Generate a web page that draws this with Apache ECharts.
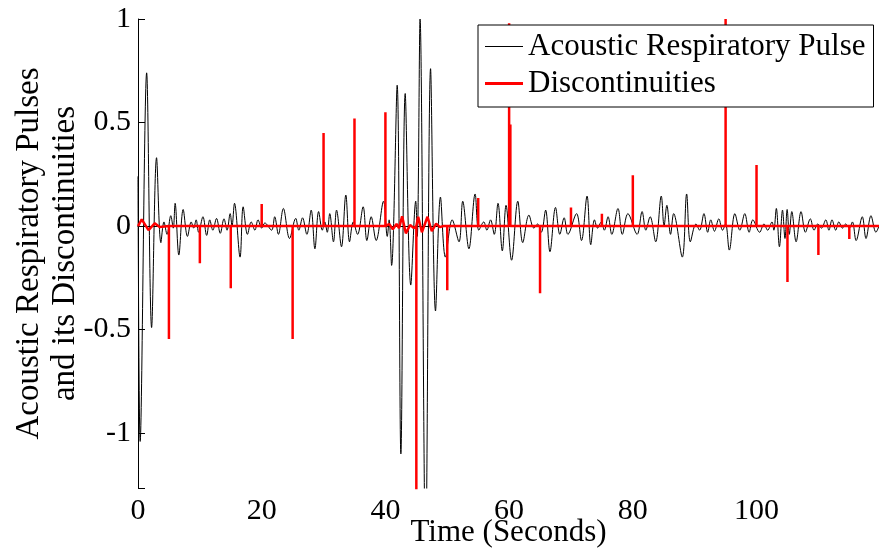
<!DOCTYPE html>
<html><head><meta charset="utf-8">
<script src="https://cdn.jsdelivr.net/npm/echarts@6/dist/echarts.min.js"></script>
<style>html,body{margin:0;padding:0;background:#fff}#c{width:879px;height:554px}</style>
</head><body><div id="c"></div>
<script>
// Acoustic respiratory pulse: turning points (seconds, amplitude)
const pulseTimes = [0.0,0.35,1.4,2.2,3.0,3.7,4.2,4.7,5.3,5.7,6.0,6.6,7.3,8.0,8.6,9.0,9.4,9.8,10.5,11.1,11.6,12.1,12.7,13.3,13.9,14.4,14.9,15.2,15.6,16.5,17.0,17.7,18.3,18.9,19.4,20.0,
 20.5,21.6,22.1,22.7,23.5,24.5,25.5,26.0,26.6,27.3,28.0,28.6,29.2,29.8,30.2,30.6,31.0,31.6,32.1,32.9,33.6,34.2,34.8,35.5,36.4,37.0,37.7,38.5,39.7,
 40.3,40.6,41.0,41.9,42.5,43.2,44.1,44.9,45.15,45.6,46.5,47.3,48.1,48.9,49.7,50.8,51.9,52.5,53.5,54.5,55.1,55.9,56.4,57.0,57.6,58.2,58.9,59.5,
 60.4,61.4,62.2,63.2,64.0,64.6,65.2,65.9,66.6,67.5,68.2,68.9,69.5,70.9,71.7,72.6,73.2,73.8,74.3,74.9,75.4,76.0,76.6,77.6,78.3,79.2,
 80.7,81.5,82.1,82.8,83.7,84.6,85.05,85.5,86.1,86.6,88.0,88.7,89.3,90.2,90.8,91.5,92.1,92.6,93.2,93.9,94.5,95.0,95.6,96.5,97.3,98.1,98.8,99.4,
 100.5,101.2,101.8,102.5,102.8,103.2,103.7,104.2,104.6,104.95,105.3,105.7,106.4,107.2,107.9,108.7,109.3,109.9,110.5,111.2,111.7,112.2,112.8,113.3,113.9,114.4,115.0,115.5,116.1,117.1,117.7,118.5,119.3,119.8];
const pulseValues = [0.24,-1.04,0.74,-0.49,0.33,-0.08,0.02,-0.04,0.05,-0.01,0.11,-0.14,0.08,-0.05,0.02,-0.01,0.03,-0.03,0.045,-0.045,0.03,-0.02,0.037,-0.035,0.035,-0.02,0.06,0.0,0.11,-0.15,0.093,-0.04,0.02,-0.02,0.03,-0.01,
 0.015,-0.02,0.045,-0.04,0.085,-0.06,0.037,-0.02,0.04,-0.04,0.077,-0.11,0.07,-0.02,0.02,-0.03,0.06,-0.076,0.077,-0.10,0.15,-0.076,0.02,-0.04,0.093,-0.07,0.045,-0.07,0.12,
 -0.05,0.03,-0.19,0.68,-1.10,0.64,-0.285,0.12,-0.05,1.0,-1.6,0.76,-0.41,0.14,-0.15,0.03,-0.076,0.12,-0.11,0.155,-0.02,0.02,-0.02,0.03,-0.04,0.11,-0.12,0.10,
 -0.165,0.12,-0.08,0.053,-0.01,0.01,-0.03,0.077,-0.124,0.09,-0.04,0.04,-0.04,0.06,-0.07,0.145,-0.09,0.03,-0.01,0.02,-0.02,0.045,-0.04,0.085,-0.04,0.06,
 -0.04,0.07,-0.02,0.045,-0.076,0.145,0.0,0.10,-0.04,0.06,-0.15,0.155,-0.076,0.01,-0.02,0.06,-0.03,0.03,-0.025,0.035,-0.02,0.01,-0.116,0.06,-0.02,0.06,-0.03,0.03,
 -0.03,0.01,-0.02,0.02,-0.02,0.085,-0.10,0.077,-0.06,0.08,-0.04,0.07,-0.076,0.07,-0.03,0.035,-0.02,0.01,-0.01,0.03,-0.02,0.03,-0.02,0.02,-0.01,0.01,-0.01,0.02,-0.07,0.045,-0.06,0.05,-0.03,0.0];

// Discontinuities (vertical spikes)
const discTimes  = [5,10,15,20,25,30,35,40,45,50,55,60,60.2,65,70,75,80,95,100,105,110,115];
const discValues = [-0.545,-0.18,-0.30,0.106,-0.545,0.45,0.52,0.55,-1.4,-0.31,0.135,0.98,0.49,-0.325,0.09,0.06,0.245,1.0,0.295,-0.27,-0.14,-0.063];
// small ripples on the discontinuity trace
const rippleTimes  = [0.2,0.6,1.7,2.7,3.5,40.6,41.2,41.8,42.2,42.7,43.3,44.0,44.6,45.3,45.9,46.8,47.5,48.2,48.8,49.4];
const rippleValues = [0.01,0.032,-0.02,0.013,-0.005,0.01,-0.015,0.01,-0.01,0.047,-0.035,0.005,-0.01,0.045,-0.03,0.045,-0.025,0.012,-0.005,0];

const xMin = 0, xMax = 119.8, xStep = 20;
const yMin = -1.265, yMax = 1;

const pulseData = pulseTimes.map((t, i) => [t, pulseValues[i]]);
const items = [];
rippleTimes.forEach((t, i) => items.push({t, pts: [[t, rippleValues[i]]]}));
discTimes.forEach((t, i) => items.push({t, pts: [[t, 0], [t, discValues[i]], [t, 0]]}));
items.sort((a, b) => a.t - b.t);
const redData = [[xMin, 0]];
items.forEach(it => it.pts.forEach(p => redData.push(p)));
redData.push([xMax, 0]);

const FONT = "'Liberation Serif','Times New Roman',serif";
const chart = echarts.init(document.getElementById('c'), null, {renderer: 'canvas'});
chart.setOption({
  animation: false,
  backgroundColor: '#fff',
  grid: {left: 138, right: 0, top: 19, bottom: 66, containLabel: false, outerBoundsMode: 'none'},
  legend: {
    orient: 'vertical', left: 478, top: 25,
    padding: [6, 8, 8, 7], itemWidth: 38, itemHeight: 14, itemGap: 6,
    symbolKeepAspect: true,
    backgroundColor: '#fff', borderColor: '#000', borderWidth: 1, borderRadius: 0,
    itemStyle: {borderWidth: 0},
    textStyle: {fontFamily: FONT, fontSize: 31, color: '#000', lineHeight: 31},
    data: [
      {name: 'Acoustic Respiratory Pulse', icon: 'path://M0,0H38V1H0Z'},
      {name: 'Discontinuities', icon: 'path://M0,0H38V3H0Z'}
    ]
  },
  xAxis: {
    type: 'value', min: xMin, max: xMax, interval: xStep,
    name: 'Time (Seconds)', nameLocation: 'middle', nameGap: 29, nameMoveOverlap: false,
    nameTextStyle: {fontFamily: FONT, fontSize: 31, color: '#000'},
    axisLine: {show: true, lineStyle: {color: '#000', width: 1}},
    axisTick: {show: true, inside: true, length: 7, lineStyle: {color: '#000'}},
    axisLabel: {fontFamily: FONT, fontSize: 30, color: '#000', margin: 8,
      formatter: v => (Math.abs(v % xStep) < 1e-9 ? String(v) : '')},
    splitLine: {show: false}
  },
  yAxis: {
    type: 'value', min: yMin, max: yMax,
    name: 'Acoustic Respiratory Pulses\nand its Discontinuities', nameLocation: 'middle', nameGap: 55, nameMoveOverlap: false,
    nameTextStyle: {fontFamily: FONT, fontSize: 33, color: '#000', lineHeight: 36},
    axisLine: {show: true, lineStyle: {color: '#000', width: 1}},
    axisTick: {show: true, inside: true, length: 7, lineStyle: {color: '#000'}},
    axisLabel: {fontFamily: FONT, fontSize: 30, color: '#000', margin: 7,
      formatter: v => (Math.abs(v * 2 - Math.round(v * 2)) < 1e-9 ? String(v) : '')},
    splitLine: {show: false}
  },
  series: [
    {name: 'Acoustic Respiratory Pulse', type: 'line', data: pulseData, symbol: 'none', smooth: 0.35,
     lineStyle: {color: '#000', width: 1}, itemStyle: {color: '#000'}, clip: true, z: 2},
    {name: 'Discontinuities', type: 'line', data: redData, symbol: 'none',
     lineStyle: {color: '#f00', width: 2.5}, itemStyle: {color: '#f00'}, clip: true, z: 3}
  ]
});
</script></body></html>
